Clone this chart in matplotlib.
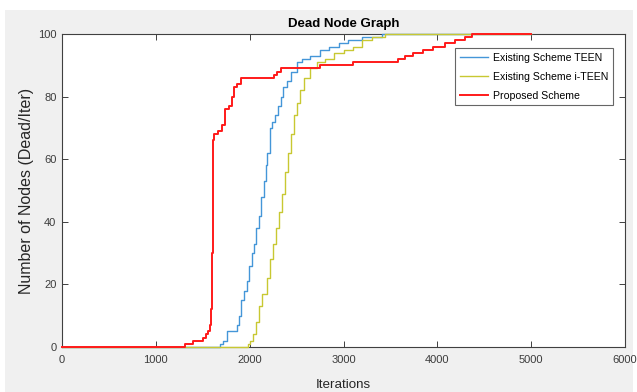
import numpy as np
import matplotlib
matplotlib.use('Agg')
import matplotlib.pyplot as plt
from matplotlib.patches import Rectangle

plt.rcParams['font.family'] = ['Liberation Sans', 'DejaVu Sans']

# Existing Scheme TEEN: (iteration, dead nodes) step points
teen_iter = [0, 1684, 1715, 1760, 1865, 1890, 1910, 1940, 1970, 1995, 2020, 2050, 2070,
             2100, 2125, 2150, 2170, 2190, 2220, 2240, 2270, 2300, 2330, 2360, 2400,
             2440, 2500, 2560, 2640, 2750, 2850, 2950, 3050, 3200, 3410, 5000]
teen_dead = [0, 1, 2, 5, 7, 10, 15, 18, 21, 26, 30, 33, 38,
             42, 48, 53, 58, 62, 70, 72, 74, 77, 80, 83, 85,
             88, 91, 92, 93, 95, 96, 97, 98, 99, 100, 100]

# Existing Scheme i-TEEN
iteen_iter = [0, 1950, 1980, 2000, 2040, 2070, 2100, 2130, 2180, 2220, 2250, 2280, 2310,
              2340, 2380, 2410, 2440, 2470, 2500, 2540, 2580, 2640, 2720, 2800, 2900,
              3000, 3100, 3200, 3300, 3440, 5000]
iteen_dead = [0, 0, 1, 2, 4, 8, 13, 17, 22, 28, 33, 38, 43,
              49, 56, 62, 68, 74, 78, 82, 86, 89, 91, 92, 94,
              95, 96, 98, 99, 100, 100]

# Proposed Scheme
prop_iter = [0, 1311, 1396, 1503, 1535, 1556, 1577, 1593, 1600, 1605, 1609, 1620, 1662,
             1705, 1737, 1780, 1812, 1833, 1865, 1908, 2259, 2291, 2334, 2750, 3101,
             3581, 3655, 3740, 3847, 3954, 4082, 4188, 4295, 4369, 5000]
prop_dead = [0, 1, 2, 3, 4, 5, 7, 12, 30, 55, 66, 68, 69,
             71, 76, 77, 80, 83, 84, 86, 87, 88, 89, 90, 91,
             92, 93, 94, 95, 96, 97, 98, 99, 100, 100]

x_ticks = [0, 1000, 2000, 3000, 4000, 5000, 6000]
y_ticks = [0, 20, 40, 60, 80, 100]

fig = plt.figure(figsize=(6.37, 3.92), dpi=100, facecolor='white')
fig.patches.append(Rectangle((5 / 637, 0), 628 / 637, 382 / 392, transform=fig.transFigure,
                             facecolor='#f0f0f0', edgecolor='none', zorder=-10))
ax = fig.add_axes([62 / 637, 45 / 392, 563 / 637, 313 / 392])
ax.set_facecolor('white')

ax.step(teen_iter, teen_dead, where='post', color='#4496d8', lw=1.0,
        label='Existing Scheme TEEN', zorder=3, clip_on=False)
ax.step(iteen_iter, iteen_dead, where='post', color='#c8c832', lw=1.0,
        label='Existing Scheme i-TEEN', zorder=3, clip_on=False)
ax.step(prop_iter, prop_dead, where='post', color='#ff1a1a', lw=1.4,
        label='Proposed Scheme', zorder=3, clip_on=False)

ax.set_xlim(0, 6000)
ax.set_ylim(0, 100)
ax.set_xticks(x_ticks)
ax.set_yticks(y_ticks)
ax.tick_params(direction='in', length=4.5, width=0.7, color='#404040',
               labelsize=8, labelcolor='#3c3c3c', top=True, right=True)
ax.tick_params(axis='x', pad=6)
ax.tick_params(axis='y', pad=4)
for s in ax.spines.values():
    s.set_color('#404040')
    s.set_linewidth(0.8)

ax.set_title('Dead Node Graph', fontsize=9.5, fontweight='bold', pad=5)
ax.set_xlabel('Iterations', fontsize=9.6, color='#262626', va='top')
ax.xaxis.set_label_coords(0.5, -(379 - 347) / 313)
ax.set_ylabel('Number of Nodes (Dead/Iter)', fontsize=11.5, color='#262626')
ax.yaxis.set_label_coords(-(62 - 34) / 563, 0.5)

leg = ax.legend(loc='upper right', bbox_to_anchor=((613 - 62) / 563, (347 - 48) / 313),
                borderaxespad=0, fancybox=False, fontsize=7.6, handlelength=2.6,
                handletextpad=0.5, labelspacing=0.85, borderpad=0.45)
leg.get_frame().set_edgecolor('#404040')
leg.get_frame().set_linewidth(0.8)

fig.savefig('out.png', dpi=100, facecolor='white')
